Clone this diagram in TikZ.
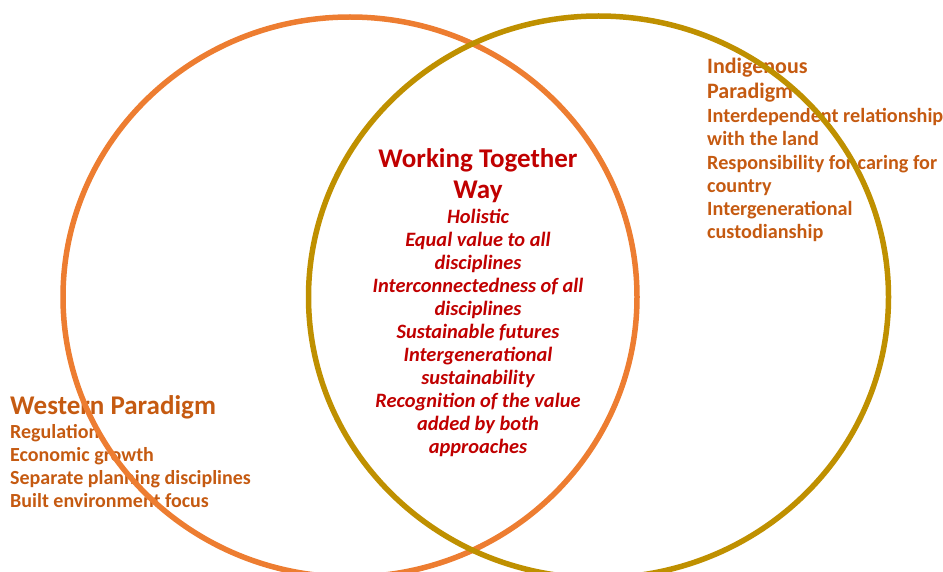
\documentclass[tikz,border=0pt]{standalone}
\usepackage{fontspec}
\setmainfont{Carlito}
\definecolor{westorange}{HTML}{ED7D31}
\definecolor{indgold}{HTML}{BF9000}
\definecolor{labelbrown}{HTML}{C55A11}
\definecolor{coredred}{HTML}{C00000}
\begin{document}
\begin{tikzpicture}[x=1pt,y=-1pt,
  ring/.style={line width=5.5pt},
  block/.style={inner sep=0pt, font=\bfseries},
  % multi-line nodes: the base anchor sits on the last line's baseline
  sideblock/.style={block, anchor=base west, align=left, text=labelbrown},
  coreblock/.style={block, anchor=base, align=center, text=coredred}
]
\useasboundingbox (0,0) rectangle (943,572);

% centre: shared ground of both paradigms
\node[coreblock, font=\bfseries\fontsize{27}{31}\selectfont] (coretitle) at (478,199)
  {Working Together\\Way};
\node[coreblock, font=\bfseries\itshape\fontsize{20.4}{23}\selectfont] (corelist) at (478,453)
  {Holistic\\Equal value to all\\disciplines\\Interconnectedness of all\\disciplines\\
   Sustainable futures\\Intergenerational\\sustainability\\Recognition of the value\\
   added by both\\approaches};

% right-hand paradigm
\node[sideblock, font=\bfseries\fontsize{22}{25}\selectfont] (indtitle) at (707,99)
  {Indigenous\\Paradigm};
\node[sideblock, font=\bfseries\fontsize{20.2}{23.3}\selectfont] (indlist) at (707,239)
  {Interdependent relationship\\with the land\\Responsibility for caring for\\
   country\\Intergenerational\\custodianship};

% left-hand paradigm
\node[sideblock, font=\bfseries\fontsize{27}{30}\selectfont] (westtitle) at (10,414)
  {Western Paradigm};
\node[sideblock, font=\bfseries\fontsize{20}{23}\selectfont] (westlist) at (10,507)
  {Regulation\\Economic growth\\Separate planning disciplines\\Built environment focus};

% the two overlapping rings, drawn over the labels
\draw[ring, westorange] (350,297) ellipse [x radius=287, y radius=280];
\draw[ring, indgold] (598.5,297) ellipse [x radius=290, y radius=281];
\end{tikzpicture}
\end{document}
